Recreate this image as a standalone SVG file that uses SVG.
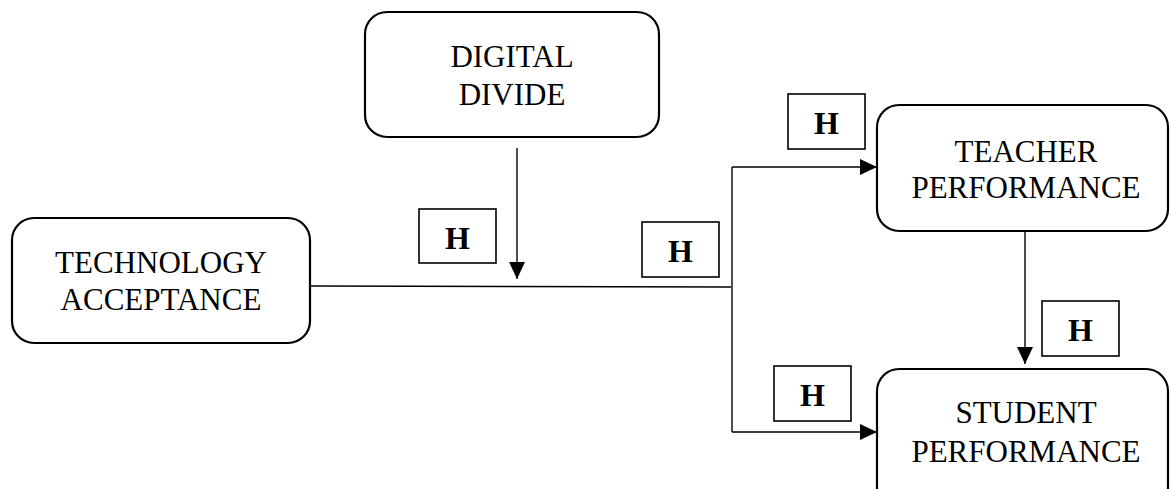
<svg xmlns="http://www.w3.org/2000/svg" width="1170" height="489" viewBox="0 0 1170 489">
<style>
.node{fill:#fff;stroke:#000;stroke-width:2.2}
.lbl{font-family:"Liberation Serif",serif;font-size:31px;fill:#000;text-anchor:middle}
.hb{fill:#fff;stroke:#000;stroke-width:1.6}
.ht{font-family:"Liberation Serif",serif;font-size:32px;font-weight:bold;fill:#000;text-anchor:middle}
.ln{fill:none;stroke:#000;stroke-width:1.4}
</style>
<defs>
<marker id="ah" markerWidth="17" markerHeight="16" refX="17" refY="8" orient="auto" markerUnits="userSpaceOnUse">
<path d="M0,0 L17,8 L0,16 Z" fill="#000"/>
</marker>
</defs>
<g id="connectors">
<line class="ln" x1="517" y1="148" x2="517" y2="279" marker-end="url(#ah)"/>
<line class="ln" x1="311" y1="286" x2="731" y2="287"/>
<line class="ln" x1="732" y1="167" x2="732" y2="432"/>
<line class="ln" x1="732" y1="167" x2="877" y2="167" marker-end="url(#ah)"/>
<line class="ln" x1="732" y1="432" x2="877" y2="432" marker-end="url(#ah)"/>
<line class="ln" x1="1025" y1="232" x2="1025" y2="364" marker-end="url(#ah)"/>
</g>
<g id="digital-divide">
<rect class="node" x="365" y="12" width="294" height="125" rx="22"/>
<text class="lbl" x="512" y="67">DIGITAL</text>
<text class="lbl" x="512" y="105">DIVIDE</text>
</g>
<g id="technology-acceptance">
<rect class="node" x="12" y="218" width="298" height="125" rx="22"/>
<text class="lbl" x="161" y="273">TECHNOLOGY</text>
<text class="lbl" x="161" y="310">ACCEPTANCE</text>
</g>
<g id="teacher-performance">
<rect class="node" x="877" y="105" width="291" height="126" rx="22"/>
<text class="lbl" x="1026" y="162">TEACHER</text>
<text class="lbl" x="1026" y="198">PERFORMANCE</text>
</g>
<g id="student-performance">
<rect class="node" x="877" y="369" width="291" height="140" rx="22"/>
<text class="lbl" x="1026" y="423">STUDENT</text>
<text class="lbl" x="1026" y="462">PERFORMANCE</text>
</g>
<g id="h1">
<rect class="hb" x="419" y="209" width="77" height="54"/>
<text class="ht" x="457.5" y="249">H</text>
</g>
<g id="h2">
<rect class="hb" x="642" y="222" width="77" height="55"/>
<text class="ht" x="680.5" y="262">H</text>
</g>
<g id="h3">
<rect class="hb" x="788" y="94" width="77" height="55"/>
<text class="ht" x="826.5" y="134">H</text>
</g>
<g id="h4">
<rect class="hb" x="774" y="366" width="77" height="55"/>
<text class="ht" x="812.5" y="406">H</text>
</g>
<g id="h5">
<rect class="hb" x="1042" y="301" width="77" height="55"/>
<text class="ht" x="1080.5" y="341">H</text>
</g>
</svg>
